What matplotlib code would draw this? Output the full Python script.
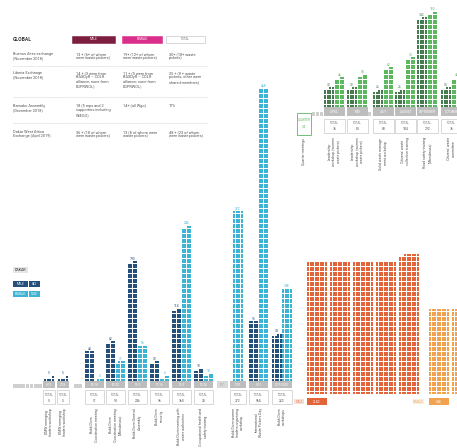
import matplotlib

matplotlib.use("Agg")

import matplotlib.pyplot as plt
from matplotlib.collections import PatchCollection
from matplotlib.patches import Rectangle

plt.rcParams["font.family"] = ["Roboto", "DejaVu Sans"]

# ---- global table -------------------------------------------------------
global_events = [
    "Buenos Aires exchange\n(November 2018)",
    "Liberia Exchange\n(November 2018)",
    "Bamako Assembly\n(December 2018)",
    "Dakar West Africa\nExchange (April 2019)",
]
global_male = [
    "13 + (6+ of whom\nwere waste pickers)",
    "14 + (3 were from\nBASDyR – CDLR\nalliance; none from\nEGPRWOL)",
    "18 (5 reps and 2\nsupporters including\nWIEGO)",
    "36 + (18 of whom\nwere waste pickers)",
]
global_female = [
    "19+ (12+ of whom\nwere waste pickers)",
    "11 + (5 were from\nBASDyR – CDLR\nalliance; none from\nEGPRWOL)",
    "14+ (all Wgo)",
    "13 (8 of whom were\nwaste pickers)",
]
global_total = [
    "30+ (18+ waste\npickers)",
    "25 + (8 + waste\npickers; other were\nshared members)",
    "17%",
    "48 + (23 of whom\nwere waste pickers)",
]

# ---- Dakar events -------------------------------------------------------
dakar_dates = ["6/13", "7/18", "10/18", "10/22", "11/3", "11/16", "12/5", "12/26", "1/20", "3/11", "2019-2020"]
dakar_male = [5, 5, 48, 62, 190, 30, 114, 18, 0, 96, 74]
dakar_female = [0, 0, 3, 31, 56, 6, 246, 10, 272, 468, 148]
dakar_names = [
    "DMW emerging\nleaders workshop",
    "DMW emerging\nleaders workshop",
    "Bokk Diom\nCoordination meeting",
    "Bokk Diom\nCoordination meeting\n(Mbeubeuss)",
    "Bokk Diom General\nAssembly",
    "Bokk Diom\nsecurity",
    "Bokk Diom meeting with\nwaste authorities",
    "Occupational health and\nsafety training",
    "Bokk Diom women\nleaders organizing\nworkshop",
    "International\nWaste Pickers Day",
    "Bokk Diom\nworkshops",
]
dakar_box_left = [43, 57, 85, 106, 128, 150, 172, 194, 230, 249, 272]
dakar_box_width = [12, 12, 19, 19, 19, 19, 19, 19, 16, 19, 20]

# ---- monthly meetings (green) -------------------------------------------
month_names = ["APRIL", "MAY", "JULY", "AUGUST", "SEPTEMBER", "OCTOBER"]
month_male = [30, 30, 26, 26, 142, 30]
month_female = [46, 50, 62, 78, 150, 46]
month_desc = [
    "Leadership\nworkshop (women\nwaste pickers)",
    "Leadership\nworkshop (women\nwaste pickers)",
    "Solid waste manage-\nment workshop",
    "Citizens' waste\ncollection training",
    "Road safety training\n(Mbeubeuss)",
    "Citizens' waste\ncommittee",
]
month_box_left = [324, 347, 373, 395, 417, 441]

# ---- membership (orange) ------------------------------------------------
orange_male_blocks = [424, 424, 424, 424, 446]
orange_female_blocks = [272, 272]

DARK_BLUE, LIGHT_BLUE = "#25507a", "#3db3d6"
DARK_GREEN, LIGHT_GREEN = "#467a4f", "#5cb85e"
ORANGE, LIGHT_ORANGE = "#e4643a", "#f0a24e"
GRAY_BOX = "#bdbdbd"
TXT = "#555555"
PITCH, SIZE = 2.5, 2.1


def waffle(patches, left, base, count, ncols):
    """Squares stacked upwards from base, partial row filled from the right."""
    for i in range(count):
        r, c = divmod(i, ncols)
        x = left + (ncols - 1 - c) * PITCH
        y = base - (r + 1) * PITCH + (PITCH - SIZE)
        patches.append(Rectangle((x, y), SIZE, SIZE))
    rows = -(-count // ncols)
    return base - rows * PITCH


def add_squares(ax, patches, color):
    ax.add_collection(PatchCollection(patches, facecolor=color, edgecolor="none"))


fig = plt.figure(figsize=(4.57, 4.48), dpi=100)
ax = fig.add_axes([0, 0, 1, 1])
ax.set_xlim(0, 457)
ax.set_ylim(448, 0)
ax.axis("off")

fs = 2.8

# global table
ax.text(13, 39.5, "GLOBAL", fontsize=3.6, color="#333333", va="center", fontweight="bold")
for x, w, fc, ec, tc, lab in [
    (72, 43, "#7d1d3f", "#7d1d3f", "white", "MALE"),
    (122, 40, "#d92e8a", "#d92e8a", "white", "FEMALE"),
    (166, 39, "white", "#bbbbbb", "#777777", "TOTAL"),
]:
    ax.add_patch(Rectangle((x, 36), w, 7, facecolor=fc, edgecolor=ec, linewidth=0.4))
    ax.text(x + w / 2, 39.5, lab, fontsize=2.2, color=tc, ha="center", va="center")

row_y = [52, 71, 104, 130]
for i, y in enumerate(row_y):
    for x, txt in zip([13, 76, 123, 169], [global_events[i], global_male[i], global_female[i], global_total[i]]):
        ax.text(x, y, txt, fontsize=fs, color=TXT, va="top", linespacing=1.15)
for y in [66, 97, 123]:
    ax.plot([13, 207], [y, y], color="#bbbbbb", linewidth=0.4, linestyle=(0, (1, 1)))

# Dakar legend
ax.add_patch(Rectangle((13, 267), 15, 6, facecolor="#e6e6e6", edgecolor="none"))
ax.text(20.5, 270, "DAKAR", fontsize=2.6, color="#333333", ha="center", va="center")
for y, col, lab, val in [(281, DARK_BLUE, "MALE", sum(dakar_male)), (291, LIGHT_BLUE, "FEMALE", sum(dakar_female))]:
    ax.add_patch(Rectangle((13, y), 15, 6, facecolor=col))
    ax.add_patch(Rectangle((29, y), 11, 6, facecolor=col))
    ax.text(20.5, y + 3, lab, fontsize=2.2, color="white", ha="center", va="center")
    ax.text(34.5, y + 3, str(val), fontsize=2.2, color="white", ha="center", va="center")

# empty months strips
for x in [13, 17.2, 21.4, 25.6, 29.8, 34, 38.2, 74, 78.2]:
    ax.add_patch(Rectangle((x, 384), 3.6, 4, facecolor="#cfcfcf", edgecolor="none"))
ax.add_patch(Rectangle((217, 381), 11, 7, facecolor="#d8d8d8", edgecolor="none"))
ax.text(222.5, 384.5, "1/7", fontsize=2.2, color="#999999", ha="center", va="center")

# Dakar bars
base = 381
male_p, female_p = [], []
for i, date in enumerate(dakar_dates):
    bl, bw = dakar_box_left[i], dakar_box_width[i]
    cx = bl + bw / 2
    m, f = dakar_male[i], dakar_female[i]
    if m and f:
        ml, fl = cx - 10, cx
    else:
        ml = fl = cx - 5
    if m:
        top = waffle(male_p, ml, base, m, 4)
        ax.text(ml + 5, top - 0.5, str(m), fontsize=2.3, color=DARK_BLUE, ha="center", va="bottom")
    if f:
        top = waffle(female_p, fl, base, f, 4)
        ax.text(fl + 5, top - 0.5, str(f), fontsize=2.3, color=LIGHT_BLUE, ha="center", va="bottom")
    ax.add_patch(Rectangle((bl, base), bw, 7, facecolor=GRAY_BOX, edgecolor="none"))
    ax.text(cx, base + 3.5, date, fontsize=2.2, color="white", ha="center", va="center")
    ax.add_patch(Rectangle((bl, base + 9.5), bw, 14, facecolor="white", edgecolor="#bbbbbb", linewidth=0.4))
    ax.text(cx, base + 13.5, "TOTAL", fontsize=2.2, color="#777777", ha="center", va="center")
    ax.text(cx, base + 19.5, str(m + f), fontsize=2.4, color="#555555", ha="center", va="center")
    ax.text(cx, base + 27, dakar_names[i], fontsize=2.5, color=TXT, rotation=90,
            ha="center", va="top", linespacing=1.1)
add_squares(ax, male_p, DARK_BLUE)
add_squares(ax, female_p, LIGHT_BLUE)

# green monthly meetings
gbase = 107
gm_p, gf_p = [], []
for i, name in enumerate(month_names):
    bl = month_box_left[i]
    top = waffle(gm_p, bl, gbase, month_male[i], 4)
    ax.text(bl + 5, top - 0.5, str(month_male[i]), fontsize=2.3, color=DARK_GREEN, ha="center", va="bottom")
    top = waffle(gf_p, bl + 10.5, gbase, month_female[i], 4)
    ax.text(bl + 15.5, top - 0.5, str(month_female[i]), fontsize=2.3, color=LIGHT_GREEN, ha="center", va="bottom")
    ax.add_patch(Rectangle((bl, gbase + 0.5), 21, 9, facecolor=GRAY_BOX, edgecolor="none"))
    ax.text(bl + 10.5, gbase + 5, name, fontsize=2.2, color="white", ha="center", va="center")
    ax.add_patch(Rectangle((bl, gbase + 12.5), 21, 14, facecolor="white", edgecolor="#bbbbbb", linewidth=0.4))
    ax.text(bl + 10.5, gbase + 16.5, "TOTAL", fontsize=2.2, color="#777777", ha="center", va="center")
    ax.text(bl + 10.5, gbase + 22.5, str(month_male[i] + month_female[i]), fontsize=2.4,
            color="#555555", ha="center", va="center")
    ax.text(bl + 10.5, gbase + 30, month_desc[i], fontsize=2.5, color=TXT, rotation=90,
            ha="center", va="top", linespacing=1.1)
add_squares(ax, gm_p, DARK_GREEN)
add_squares(ax, gf_p, LIGHT_GREEN)
for x in [312, 315.8, 319.6, 368]:
    ax.add_patch(Rectangle((x, 112), 3.2, 4.5, facecolor="#cfcfcf", edgecolor="none"))
ax.add_patch(Rectangle((297, 113), 14, 22, facecolor="white", edgecolor=LIGHT_GREEN, linewidth=0.6))
ax.text(304, 120, "QUARTER", fontsize=2.1, color=LIGHT_GREEN, ha="center", va="center")
ax.text(304, 127, "34", fontsize=2.5, color=LIGHT_GREEN, ha="center", va="center")
ax.text(304, 138, "Quarter meetings", fontsize=2.5, color=TXT, rotation=90, ha="center", va="top")

# orange membership blocks
obase = 394
om_p, of_p = [], []
for j, n in enumerate(orange_male_blocks):
    waffle(om_p, 307 + j * 23, obase, n, 8)
for j, n in enumerate(orange_female_blocks):
    waffle(of_p, 429 + j * 23, obase, n, 8)
add_squares(ax, om_p, ORANGE)
add_squares(ax, of_p, LIGHT_ORANGE)
ax.add_patch(Rectangle((294, 399.5), 10, 5, facecolor="#f8e0d4", edgecolor="none"))
ax.text(299, 402, "MALE", fontsize=2.1, color="#e4906a", ha="center", va="center")
ax.add_patch(Rectangle((307, 398.5), 20, 7, facecolor=ORANGE))
ax.text(317, 402, str(sum(orange_male_blocks)), fontsize=2.4, color="white", ha="center", va="center")
ax.add_patch(Rectangle((413, 399.5), 11, 5, facecolor="#fbeedd", edgecolor="none"))
ax.text(418.5, 402, "FEMALE", fontsize=2.1, color="#e8b070", ha="center", va="center")
ax.add_patch(Rectangle((429, 398.5), 20, 7, facecolor=LIGHT_ORANGE))
ax.text(439, 402, str(sum(orange_female_blocks)), fontsize=2.4, color="white", ha="center", va="center")

fig.savefig("out.png", dpi=100)
